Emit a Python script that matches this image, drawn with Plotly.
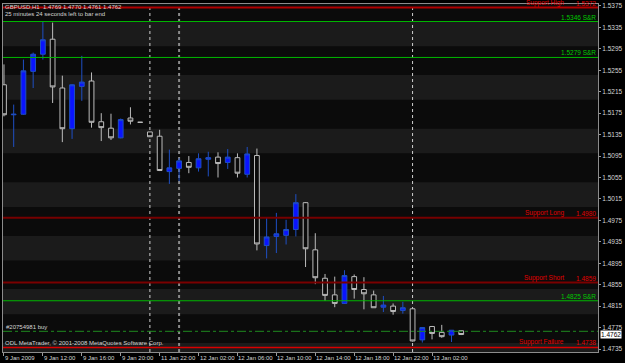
import plotly.graph_objects as go

# ---------------- data ----------------
times = (["9 Jan %02d:00" % h for h in range(8, 23)] +
         ["11 Jan %02d:00" % h for h in range(21, 24)] +
         ["12 Jan %02d:00" % h for h in range(0, 24)] +
         ["13 Jan %02d:00" % h for h in range(0, 6)])

opens = [1.5228, 1.5172, 1.5173, 1.5253, 1.5285, 1.5313, 1.5222, 1.5146, 1.5225, 1.5235,
         1.5159, 1.5147, 1.5129, 1.5166, 1.5158, 1.5140, 1.5132, 1.5066, 1.5072, 1.5083,
         1.5073, 1.5089, 1.5093, 1.5083, 1.5092, 1.5061, 1.5096, 1.4928, 1.4945, 1.4947,
         1.4958, 1.5008, 1.4920, 1.4867, 1.4836, 1.4820, 1.4870, 1.4846, 1.4836, 1.4813,
         1.4815, 1.4807, 1.4810, 1.4752, 1.4777, 1.4766, 1.4761, 1.4769]
highs = [1.5266, 1.5191, 1.5275, 1.5288, 1.5345, 1.5344, 1.5245, 1.5229, 1.5282, 1.5251,
         1.5175, 1.5174, 1.5165, 1.5186, 1.5158, 1.5140, 1.5144, 1.5107, 1.5091, 1.5095,
         1.5100, 1.5103, 1.5102, 1.5108, 1.5100, 1.5112, 1.5109, 1.4980, 1.4989, 1.4976,
         1.5024, 1.5009, 1.4951, 1.4875, 1.4870, 1.4882, 1.4874, 1.4869, 1.4844, 1.4834,
         1.4820, 1.4823, 1.4811, 1.4776, 1.4778, 1.4780, 1.4770, 1.4770]
lows = [1.5169, 1.5112, 1.5172, 1.5222, 1.5275, 1.5194, 1.5121, 1.5127, 1.5198, 1.5148,
        1.5123, 1.5125, 1.5128, 1.5154, 1.5158, 1.5131, 1.5067, 1.5043, 1.5048, 1.5063,
        1.5066, 1.5057, 1.5055, 1.5071, 1.5055, 1.5055, 1.4919, 1.4904, 1.4914, 1.4930,
        1.4945, 1.4888, 1.4856, 1.4825, 1.4813, 1.4819, 1.4829, 1.4809, 1.4812, 1.4804,
        1.4799, 1.4801, 1.4749, 1.4747, 1.4753, 1.4756, 1.4748, 1.4761]
closes = [1.5172, 1.5173, 1.5254, 1.5285, 1.5312, 1.5224, 1.5146, 1.5228, 1.5233, 1.5158,
          1.5148, 1.5129, 1.5163, 1.5160, 1.5158, 1.5131, 1.5068, 1.5073, 1.5086, 1.5074,
          1.5090, 1.5092, 1.5081, 1.5093, 1.5063, 1.5099, 1.4931, 1.4944, 1.4950, 1.4958,
          1.5008, 1.4922, 1.4868, 1.4835, 1.4820, 1.4872, 1.4846, 1.4838, 1.4812, 1.4817,
          1.4805, 1.4812, 1.4750, 1.4775, 1.4764, 1.4758, 1.4770, 1.4762]

tick_idx = [0, 4, 8, 12, 16, 20, 24, 28, 32, 36, 40, 44]
tick_labels = ["9 Jan 2009", "9 Jan 12:00", "9 Jan 16:00", "9 Jan 20:00", "11 Jan 22:00",
               "12 Jan 02:00", "12 Jan 06:00", "12 Jan 10:00", "12 Jan 14:00",
               "12 Jan 18:00", "12 Jan 22:00", "13 Jan 02:00"]
price_ticks = [1.5375, 1.5335, 1.5295, 1.5255, 1.5215, 1.5175, 1.5135, 1.5095, 1.5055,
               1.5015, 1.4975, 1.4935, 1.4895, 1.4855, 1.4815, 1.4775, 1.4735]

band_low = [1.5300, 1.5200, 1.5100, 1.5000, 1.4900, 1.4800, 1.4700]
band_high = [1.5346, 1.5246, 1.5146, 1.5046, 1.4946, 1.4847, 1.4746]

sr_levels = [1.5346, 1.5279, 1.4825]
support_names = ["Support High", "Support Long", "Support Short", "Support Failure"]
support_levels = [1.5372, 1.4980, 1.4859, 1.4738]
order_label = "#20754981 buy"
order_price = 1.4768
separator_idx = [15, 18, 42]
symbol = "GBPUSD,H1"
timer_text = "25 minutes 24 seconds left to bar end"
copyright_text = "ODL MetaTrader, \u00a9 2001-2008 MetaQuotes Software Corp."

# ---------------- figure ----------------
FONT = "Liberation Sans Narrow, Liberation Sans, Arial, sans-serif"
BG = "#0b0b0b"
x = list(range(len(opens)))

fig = go.Figure()
fig.add_trace(go.Candlestick(
    x=x, open=opens, high=highs, low=lows, close=closes, text=times,
    increasing=dict(line=dict(color="#1f4fc4", width=1), fillcolor="#0a14ff"),
    decreasing=dict(line=dict(color="#bcbcbc", width=1), fillcolor=BG),
    whiskerwidth=0, showlegend=False, hoverinfo="text+y"))

shapes = []
for lo, hi in zip(band_low, band_high):
    shapes.append(dict(type="rect", xref="paper", yref="y", x0=0, x1=1, y0=lo, y1=hi,
                       fillcolor="#1b1b1b", line=dict(width=0), layer="below"))
for i, s in enumerate(separator_idx):
    col, w = ("#8a8a8a", 2) if i == 1 else ("#d0d0d0", 1)
    shapes.append(dict(type="line", xref="x", yref="paper", x0=s, x1=s, y0=0, y1=1,
                       line=dict(color=col, width=w, dash="dot"), layer="below"))
for v in sr_levels:
    shapes.append(dict(type="line", xref="paper", yref="y", x0=0, x1=1, y0=v, y1=v,
                       line=dict(color="#00b800", width=1)))
sup_styles = [("#b00000", 2), ("#760000", 2), ("#7a0000", 2), ("#d80000", 1.5)]
for v, (col, w) in zip(support_levels, sup_styles):
    shapes.append(dict(type="line", xref="paper", yref="y", x0=0, x1=1, y0=v, y1=v,
                       line=dict(color=col, width=w)))
shapes.append(dict(type="line", xref="paper", yref="y", x0=0, x1=1, y0=order_price,
                   y1=order_price, line=dict(color="#1f8a1f", width=1, dash="dashdot")))

FS = 6
ann = []
small = dict(family=FONT, size=FS, color="#d4d4d4")
for t, lab in zip(tick_idx, tick_labels):
    ann.append(dict(x=t, xref="x", y=0, yref="paper", yanchor="top", xanchor="left",
                    xshift=0, yshift=-2, text=lab, showarrow=False, font=small,
                    borderpad=0))
for v in sr_levels:
    ann.append(dict(x=0.9985, xref="paper", y=v, yref="y", xanchor="right",
                    yanchor="bottom", text="%.4f S&R" % v, showarrow=False, borderpad=0,
                    font=dict(family=FONT, size=6.5, color="#00c800")))
for name, v in zip(support_names, support_levels):
    ann.append(dict(x=0.944, xref="paper", y=v, yref="y", xanchor="right",
                    yanchor="bottom", text=name, showarrow=False, borderpad=0,
                    font=dict(family=FONT, size=6.5, color="#e00000")))
    ann.append(dict(x=0.9985, xref="paper", y=v, yref="y", xanchor="right",
                    yanchor="bottom", text="%.4f" % v, showarrow=False, borderpad=0,
                    font=dict(family=FONT, size=6.5, color="#e00000")))
ann.append(dict(x=0.004, xref="paper", y=order_price, yref="y", xanchor="left",
                yanchor="bottom", text=order_label, showarrow=False, borderpad=0,
                font=small))
ann.append(dict(x=0.002, xref="paper", y=support_levels[-1], yref="y", xanchor="left",
                yanchor="bottom", text=copyright_text, showarrow=False, borderpad=0,
                font=small))
ann.append(dict(x=0.002, xref="paper", y=1, yref="paper", xanchor="left", yanchor="top",
                yshift=1,
                text="%s  %.4f %.4f %.4f %.4f" % (symbol, opens[-1], highs[-1], lows[-1], closes[-1]),
                showarrow=False, borderpad=0, font=small))
ann.append(dict(x=0.002, xref="paper", y=1, yref="paper", xanchor="left", yanchor="top",
                yshift=-6, text=timer_text, showarrow=False, borderpad=0, font=small))
ann.append(dict(x=1, xref="paper", y=closes[-1], yref="y", xanchor="left",
                yanchor="middle", xshift=2, text="%.4f" % closes[-1], showarrow=False,
                bgcolor="#ffffff", borderpad=0,
                font=dict(family=FONT, size=6.5, color="#000000")))

fig.update_layout(
    width=625, height=363,
    margin=dict(l=2, r=23, t=2, b=11),
    paper_bgcolor="#000000", plot_bgcolor=BG,
    shapes=shapes, annotations=ann,
    xaxis=dict(range=[-0.1, 61.06], rangeslider=dict(visible=False), showgrid=False,
               zeroline=False, tickvals=tick_idx, ticktext=[""] * len(tick_idx),
               ticks="outside", ticklen=3, tickcolor="#9a9a9a",
               showline=True, linecolor="#8c8c8c", linewidth=1, mirror=True),
    yaxis=dict(range=[1.47294, 1.53787], side="right", showgrid=False, zeroline=False,
               tickvals=price_ticks, ticktext=["%.4f" % p for p in price_ticks],
               ticks="outside", ticklen=2, tickcolor="#9a9a9a",
               tickfont=dict(family=FONT, size=6.5, color="#d4d4d4"),
               showline=True, linecolor="#8c8c8c", linewidth=1, mirror=True),
    hovermode=False,
)

fig.write_html("out.html")
